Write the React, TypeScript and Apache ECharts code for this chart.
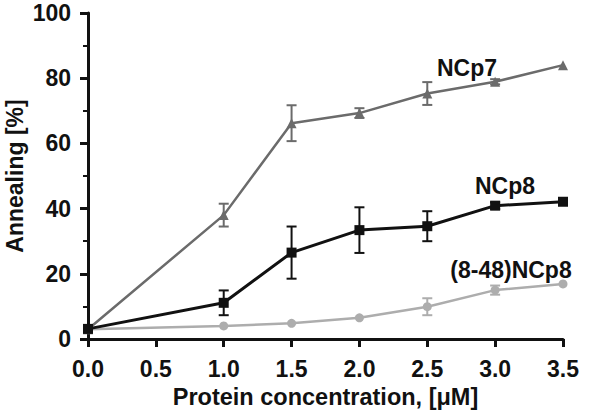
import React, { useEffect, useRef } from "react";
import * as echarts from "echarts";

const xValues = [0, 1.0, 1.5, 2.0, 2.5, 3.0, 3.5];
const ncp7 = [3, 38.0, 66.2, 69.3, 75.3, 78.9, 84.0];
const ncp7Err = [0, 3.5, 5.5, 1.5, 3.5, 0.8, 0];
const ncp8 = [3.1, 11.1, 26.5, 33.4, 34.6, 40.9, 42.1];
const ncp8Err = [0, 3.8, 8.0, 7.0, 4.6, 1.0, 0];
const ncp848 = [3.0, 4.0, 4.8, 6.5, 9.9, 15.0, 16.9];
const ncp848Err = [0, 0, 0, 0, 2.6, 1.4, 0];

const seriesNames = ["NCp7", "NCp8", "(8-48)NCp8"];
const FONT = "'Liberation Sans', Arial, sans-serif";

function errData(vals: number[], errs: number[]) {
  return xValues
    .map((x, i) => [x, vals[i] - errs[i], vals[i] + errs[i]])
    .filter((d, i) => errs[i] > 0);
}

function errSeries(vals: number[], errs: number[], color: string, z: number) {
  return {
    type: "custom",
    z,
    data: errData(vals, errs),
    encode: { x: 0, y: [1, 2] },
    renderItem: (params: any, api: any) => {
      const x = api.value(0);
      const lo = api.coord([x, api.value(1)]);
      const hi = api.coord([x, api.value(2)]);
      const cw = 5;
      const style = { stroke: color, lineWidth: 2 };
      return {
        type: "group",
        children: [
          { type: "line", shape: { x1: lo[0], y1: lo[1], x2: hi[0], y2: hi[1] }, style },
          { type: "line", shape: { x1: lo[0] - cw, y1: lo[1], x2: lo[0] + cw, y2: lo[1] }, style },
          { type: "line", shape: { x1: hi[0] - cw, y1: hi[1], x2: hi[0] + cw, y2: hi[1] }, style },
        ],
      };
    },
  };
}

function lineSeries(name: string, vals: number[], color: string, symbol: string, size: number, width: number, z: number) {
  return {
    type: "line",
    name,
    z,
    data: xValues.map((x, i) => [x, vals[i]]),
    symbol,
    symbolSize: size,
    showSymbol: true,
    lineStyle: { color, width },
    itemStyle: { color, borderWidth: 0 },
  };
}

export default function App() {
  const ref = useRef<HTMLDivElement>(null);
  useEffect(() => {
    if (!ref.current) return;
    const chart = echarts.init(ref.current, null, { renderer: "svg" });
    const c7 = "#6b6b6b";
    const c8 = "#111111";
    const c48 = "#adadad";
    chart.setOption({
      animation: false,
      backgroundColor: "#ffffff",
      textStyle: { fontFamily: FONT },
      grid: { left: 88, right: 37, top: 13, bottom: 77, containLabel: false, outerBoundsMode: "none" },
      xAxis: {
        type: "value",
        min: 0,
        max: 3.5,
        interval: 0.5,
        name: "Protein concentration, [\u03bcM]",
        nameLocation: "middle",
        nameGap: 42,
        nameTextStyle: { fontSize: 23.5, fontWeight: "bold", color: "#111", fontFamily: FONT },
        axisLine: { lineStyle: { color: "#111", width: 3 } },
        axisTick: { show: true, length: 8, lineStyle: { color: "#111", width: 3 } },
        axisLabel: {
          margin: 18,
          fontSize: 23,
          fontWeight: "bold",
          color: "#111",
          fontFamily: FONT,
          formatter: (v: number) => v.toFixed(1),
        },
        splitLine: { show: false },
      },
      yAxis: {
        type: "value",
        min: 0,
        max: 100,
        interval: 20,
        name: "Annealing [%]",
        nameLocation: "middle",
        nameRotate: 90,
        nameGap: 62,
        nameMoveOverlap: false,
        nameTextStyle: { fontSize: 23, fontWeight: "bold", color: "#111", fontFamily: FONT },
        axisLine: { show: true, lineStyle: { color: "#111", width: 3 } },
        axisTick: { show: true, length: 8, lineStyle: { color: "#111", width: 3 } },
        minorTick: { show: true, splitNumber: 2, length: 5, lineStyle: { color: "#111", width: 2 } },
        axisLabel: { margin: 17, fontSize: 23, fontWeight: "bold", color: "#111", fontFamily: FONT },
        splitLine: { show: false },
      },
      series: [
        lineSeries(seriesNames[2], ncp848, c48, "circle", 9, 2.5, 2),
        errSeries(ncp848, ncp848Err, c48, 2),
        lineSeries(seriesNames[0], ncp7, c7, "triangle", 10, 2.5, 3),
        errSeries(ncp7, ncp7Err, c7, 3),
        lineSeries(seriesNames[1], ncp8, c8, "rect", 10, 3, 4),
        errSeries(ncp8, ncp8Err, c8, 4),
      ],
      graphic: [
        { type: "text", x: 467, y: 68, style: { text: seriesNames[0], font: `bold 23px ${FONT}`, fill: "#111", align: "center", verticalAlign: "middle" } },
        { type: "text", x: 505, y: 186, style: { text: seriesNames[1], font: `bold 23px ${FONT}`, fill: "#111", align: "center", verticalAlign: "middle" } },
        { type: "text", x: 511, y: 270, style: { text: seriesNames[2], font: `bold 23px ${FONT}`, fill: "#111", align: "center", verticalAlign: "middle" } },
      ],
    });
    return () => chart.dispose();
  }, []);
  return <div ref={ref} style={{ width: 600, height: 416, position: "absolute", left: 0, top: 0 }} />;
}
